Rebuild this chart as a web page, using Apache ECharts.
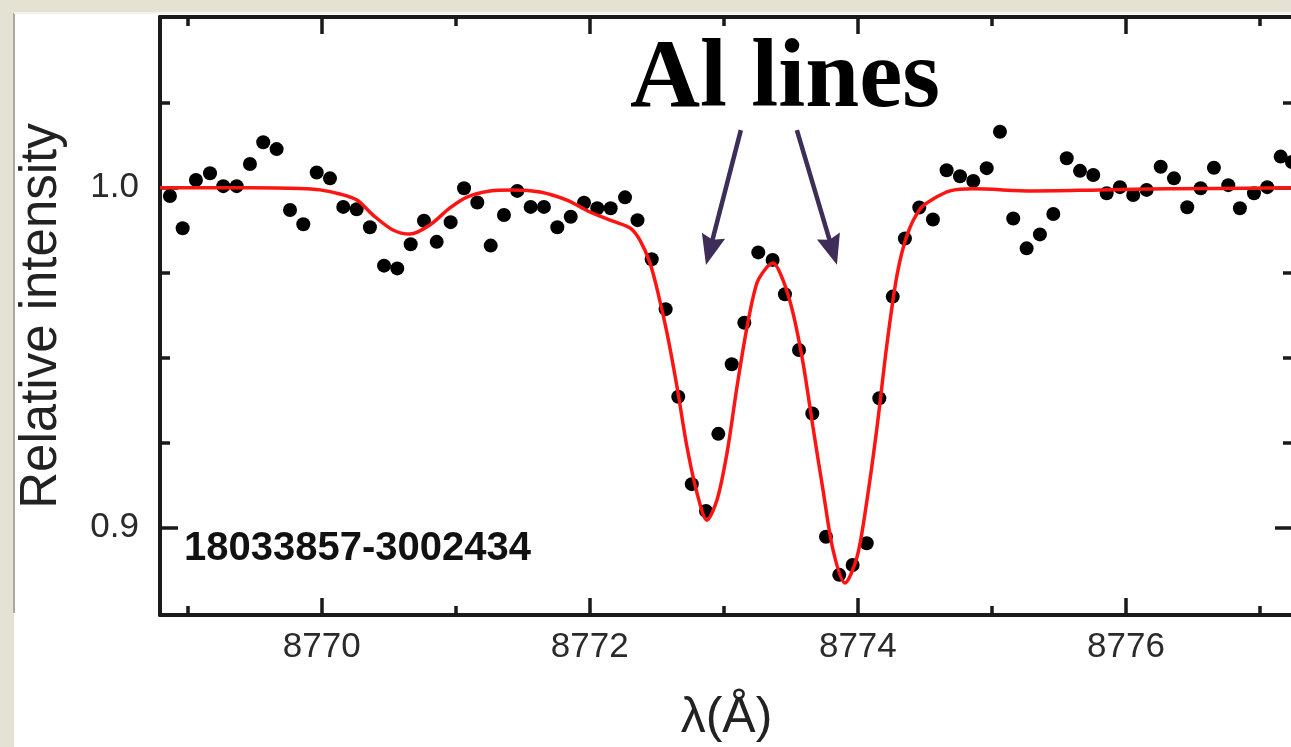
<!DOCTYPE html>
<html><head><meta charset="utf-8">
<script src="https://cdn.jsdelivr.net/npm/echarts@6/dist/echarts.min.js"></script>
<style>html,body{margin:0;padding:0;background:#e3e2d3;overflow:hidden}#c{width:1291px;height:747px}</style>
</head><body><div id="c"></div>
<script>
// observed spectrum (dots)
const obsWave = [8768.868,8768.963,8769.062,8769.167,8769.266,8769.366,8769.465,8769.564,8769.664,8769.764,
  8769.863,8769.963,8770.062,8770.161,8770.261,8770.360,8770.465,8770.564,8770.664,8770.763,
  8770.858,8770.962,8771.062,8771.161,8771.261,8771.360,8771.459,8771.559,8771.658,8771.758,
  8771.858,8771.957,8772.056,8772.156,8772.263,8772.356,8772.462,8772.566,8772.660,8772.761,
  8772.867,8772.959,8773.059,8773.153,8773.257,8773.364,8773.456,8773.561,8773.660,8773.762,
  8773.861,8773.961,8774.066,8774.160,8774.260,8774.351,8774.458,8774.560,8774.662,8774.762,
  8774.861,8774.961,8775.060,8775.159,8775.259,8775.358,8775.458,8775.558,8775.657,8775.756,
  8775.856,8775.955,8776.054,8776.154,8776.259,8776.358,8776.457,8776.557,8776.656,8776.763,
  8776.850,8776.955,8777.054,8777.154,8777.238];
const obsFlux = [0.9975,0.9880,1.0022,1.0042,1.0004,1.0004,1.0069,1.0133,1.0113,0.9934,
  0.9892,1.0044,1.0027,0.9943,0.9936,0.9883,0.9770,0.9762,0.9833,0.9902,
  0.9840,0.9898,0.9998,0.9956,0.9829,0.9919,0.9990,0.9943,0.9943,0.9883,
  0.9914,0.9955,0.9939,0.9939,0.9971,0.9904,0.9789,0.9642,0.9384,0.9127,
  0.9048,0.9275,0.9480,0.9602,0.9809,0.9787,0.9686,0.9522,0.9335,0.8972,
  0.8860,0.8889,0.8953,0.9380,0.9679,0.9850,0.9941,0.9906,1.0051,1.0033,
  1.0019,1.0057,1.0164,0.9909,0.9821,0.9862,0.9922,1.0086,1.0049,1.0037,
  0.9983,1.0001,0.9978,0.9993,1.0061,1.0027,0.9942,0.9998,1.0058,1.0007,
  0.9939,0.9983,1.0001,1.0091,1.0075];
// synthetic model spectrum (red curve)
const modelWave = [8768.794,8769.092,8769.465,8769.838,8769.987,8770.136,8770.263,8770.383,8770.532,8770.659,
  8770.808,8770.957,8771.084,8771.255,8771.427,8771.629,8771.830,8772.002,8772.173,8772.300,
  8772.374,8772.449,8772.509,8772.576,8772.651,8772.725,8772.800,8772.874,8772.949,8773.024,
  8773.098,8773.173,8773.247,8773.322,8773.367,8773.441,8773.516,8773.591,8773.665,8773.740,
  8773.815,8773.904,8773.994,8774.068,8774.143,8774.218,8774.292,8774.367,8774.464,8774.561,
  8774.688,8774.859,8775.307,8775.807,8776.307,8777.246];
const modelFlux = [0.9999,0.9999,0.9999,0.9997,0.9993,0.9981,0.9963,0.9919,0.9875,0.9863,
  0.9890,0.9940,0.9972,0.9990,0.9993,0.9987,0.9963,0.9928,0.9901,0.9881,
  0.9845,0.9778,0.9690,0.9572,0.9413,0.9237,0.9101,0.9021,0.9080,0.9219,
  0.9413,0.9589,0.9719,0.9766,0.9778,0.9728,0.9631,0.9484,0.9295,0.9110,
  0.8933,0.8836,0.8913,0.9080,0.9295,0.9542,0.9742,0.9860,0.9937,0.9966,
  0.9990,0.9996,0.9990,0.9993,0.9996,0.9999];
const xMajorTicks = [8770, 8772, 8774, 8776];
const xMinorTicks = [8769, 8771, 8773, 8775, 8777];
const yMajorTicks = [0.9, 1.0];
const yMinorTicks = [0.925, 0.95, 0.975, 1.025];
const xRange = [8768.794, 8777.246];
const yRange = [0.87419, 1.05018];
const starId = '18033857-3002434';
const annotationText = 'Al lines';
const arrowStart = [[8773.127, 1.0169], [8773.545, 1.0169]];
const arrowEnd = [[8772.895, 0.9815], [8773.812, 0.9815]];

const AX = '#1a1a1a';
function xAx(pos, ticks, len, major, withLabel) {
  return {
    type: 'value', position: pos, min: xRange[0], max: xRange[1],
    axisLine: { show: major, lineStyle: { color: AX, width: 4 } },
    axisTick: { show: true, inside: true, length: len, customValues: ticks, lineStyle: { color: AX, width: 3.5 } },
    axisLabel: withLabel ? { show: true, customValues: ticks, fontFamily: 'Liberation Sans', fontSize: 35, color: '#2a2a2a', margin: 15, formatter: v => String(Math.round(v)) } : { show: false },
    splitLine: { show: false },
    name: withLabel ? 'λ(Å)' : '', nameLocation: 'middle', nameGap: 78,
    nameTextStyle: { fontFamily: 'Liberation Sans', fontSize: 50, color: '#222' }
  };
}
function yAx(pos, ticks, len, major, withLabel) {
  return {
    type: 'value', position: pos, min: yRange[0], max: yRange[1],
    axisLine: { show: major, lineStyle: { color: AX, width: 4 } },
    axisTick: { show: true, inside: true, length: len, customValues: ticks, lineStyle: { color: AX, width: 3.5 } },
    axisLabel: withLabel ? { show: true, customValues: ticks, fontFamily: 'Liberation Sans', fontSize: 35, color: '#2a2a2a', margin: 21, formatter: v => v.toFixed(1) } : { show: false },
    splitLine: { show: false },
    name: withLabel ? 'Relative intensity' : '', nameLocation: 'middle', nameGap: 93, nameRotate: 90,
    nameTextStyle: { fontFamily: 'Liberation Sans', fontSize: 51, color: '#222' }
  };
}

const chart = echarts.init(document.getElementById('c'), null, { renderer: 'canvas' });
const obs = obsWave.map((w, i) => [w, obsFlux[i]]);
const model = modelWave.map((w, i) => [w, modelFlux[i]]);
chart.setOption({
  animation: false,
  backgroundColor: 'transparent',
  grid: { left: 160, top: 17, right: -2, bottom: 132, containLabel: false, outerBoundsMode: 'none' },
  xAxis: [
    xAx('bottom', xMajorTicks, 17, true, true),
    xAx('bottom', xMinorTicks, 9, false, false),
    xAx('top', xMajorTicks, 17, true, false),
    xAx('top', xMinorTicks, 9, false, false)
  ],
  yAxis: [
    yAx('left', yMajorTicks, 18, true, true),
    yAx('left', yMinorTicks, 10, false, false),
    yAx('right', yMajorTicks, 18, true, false),
    yAx('right', yMinorTicks, 10, false, false)
  ],
  graphic: [
    { type: 'rect', z: -10, silent: true, shape: { x: 14, y: 13, width: 1300, height: 760 }, style: { fill: '#ffffff' } },
    { type: 'rect', z: -9, silent: true, shape: { x: 13, y: 13, width: 2, height: 600 }, style: { fill: '#a9a9a0' } },
    { type: 'rect', z: -9, silent: true, shape: { x: 14, y: 12, width: 1300, height: 2 }, style: { fill: '#f4f4ee' } },
    { type: 'text', z: 50, silent: true, x: 785, y: 81, style: { text: annotationText, font: 'bold 97px "Liberation Serif"', fill: '#000', align: 'center', verticalAlign: 'middle' } },
    { type: 'text', z: 50, silent: true, x: 184, y: 549, style: { text: starId, font: 'bold 40px "Liberation Sans"', fill: '#111', align: 'left', verticalAlign: 'middle' } }
  ],
  series: [
    {
      type: 'scatter', data: obs, symbolSize: 14, itemStyle: { color: '#000', opacity: 1 }, z: 2, silent: true,
      markLine: {
        silent: true, animation: false,
        symbol: ['none', 'path://M10,0 L20,30 L10,26 L0,30 Z'], symbolSize: [24, 30],
        label: { show: false },
        lineStyle: { color: '#3e2c59', width: 4.5, type: 'solid', opacity: 1 },
        itemStyle: { color: '#3e2c59' },
        emphasis: { disabled: true },
        data: arrowStart.map((s, i) => [{ coord: s }, { coord: arrowEnd[i] }])
      }
    },
    {
      type: 'line', data: model, showSymbol: false, smooth: 0.3, silent: true, z: 3,
      lineStyle: { color: '#ff1414', width: 3.5 }
    }
  ]
});
</script></body></html>
